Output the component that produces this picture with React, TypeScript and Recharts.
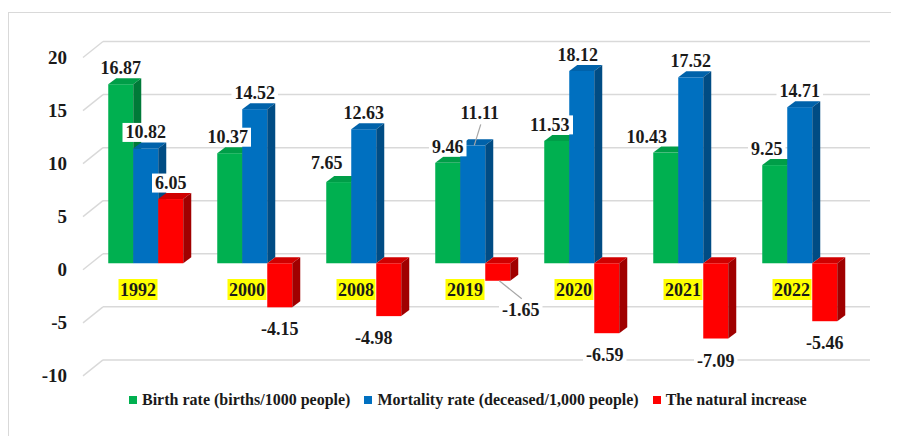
import React from 'react';
import { BarChart, Bar, XAxis, YAxis, CartesianGrid, LabelList } from 'recharts';

const years = ['1992', '2000', '2008', '2019', '2020', '2021', '2022'];
const birthRate = [16.87, 10.37, 7.65, 9.46, 11.53, 10.43, 9.25];
const mortalityRate = [10.82, 14.52, 12.63, 11.11, 18.12, 17.52, 14.71];
const naturalIncrease = [6.05, -4.15, -4.98, -1.65, -6.59, -7.09, -5.46];
const yTicks = [-10, -5, 0, 5, 10, 15, 20];

const series = [
    { key: 'birth', name: 'Birth rate (births/1000 people)', values: birthRate, front: '#00B050', top: '#009E48', side: '#007A38' },
    { key: 'mortality', name: 'Mortality rate (deceased/1,000 people)', values: mortalityRate, front: '#0070C0', top: '#0062AA', side: '#004C84' },
    { key: 'natural', name: 'The natural increase', values: naturalIncrease, front: '#FF0000', top: '#D00000', side: '#A00000' },
];

const data = years.map((year, i) => ({
    year,
    birth: birthRate[i],
    mortality: mortalityRate[i],
    natural: naturalIncrease[i],
}));

const FONT = '"Liberation Serif", "Times New Roman", serif';
const W = 890;
const H = 427;
const MARGIN = { top: 43, right: 44.5, bottom: 35.6, left: 0 };
const DEPTH_X = 8;
const DEPTH_Y = 6;

// hand-placed labels in the original (dx, dy from the default spot)
const LABEL_NUDGE: Record<string, [number, number]> = {
    'birth-1': [-2, 0],
    'birth-2': [-12, -3],
    'birth-4': [-7, 0],
    'birth-5': [-19, 0],
    'birth-6': [-8, 0],
    'mortality-3': [7, -16],
    'mortality-4': [-4, 0],
    'natural-2': [-15, 0],
    'natural-3': [23, 7],
    'natural-4': [-2, 0],
};
const LEADERS = ['mortality-3', 'natural-3'];

const textWidth = (s: string, size: number) =>
    s.split('').reduce((w, c) => w + (c === '.' ? 0.25 : c === '-' ? 0.333 : 0.5), 0) * size;

const Bar3D = (props: any) => {
    const { x, y, width, height, colors } = props;
    const x0 = Number(x);
    const w = Number(width);
    const t = Math.min(Number(y), Number(y) + Number(height));
    const b = Math.max(Number(y), Number(y) + Number(height));
    if (!isFinite(x0) || !isFinite(t)) return null;
    return (
        <g>
            <rect x={x0} y={t} width={w} height={b - t} fill={colors.front} />
            <polygon
                points={`${x0},${t} ${x0 + DEPTH_X},${t - DEPTH_Y} ${x0 + w + DEPTH_X},${t - DEPTH_Y} ${x0 + w},${t}`}
                fill={colors.top}
            />
            <polygon
                points={`${x0 + w},${t} ${x0 + w + DEPTH_X},${t - DEPTH_Y} ${x0 + w + DEPTH_X},${b - DEPTH_Y} ${x0 + w},${b}`}
                fill={colors.side}
            />
        </g>
    );
};

const makeLabel = (key: string, values: number[]) => (props: any) => {
    const vb = props.viewBox ?? props;
    const x0 = Number(vb.x ?? props.x);
    const y0 = Number(vb.y ?? props.y);
    const w = Number(vb.width ?? props.width);
    const h = Number(vb.height ?? props.height);
    const v = Number(props.value);
    const index = props.index ?? values.indexOf(v);
    const t = Math.min(y0, y0 + h);
    const b = Math.max(y0, y0 + h);
    const id = `${key}-${index}`;
    const [dx, dy] = LABEL_NUDGE[id] ?? [0, 0];
    const barCx = x0 + w / 2;
    const cx = barCx + dx;
    const cy = (v >= 0 ? t - 16 : b + 22) + dy;
    const text = v.toFixed(2);
    const tw = textWidth(text, 18);
    return (
        <g>
            {LEADERS.includes(id) && (
                <line
                    x1={barCx + 1.5}
                    y1={v >= 0 ? t : b}
                    x2={cx + 1}
                    y2={v >= 0 ? cy + 11 : cy - 11}
                    stroke="#a6a6a6"
                    strokeWidth={1.2}
                />
            )}
            <rect x={cx - tw / 2 - 3} y={cy - 9.5} width={tw + 6} height={19} fill="#ffffff" />
            <text x={cx} y={cy + 6} textAnchor="middle" fontFamily={FONT} fontWeight="bold" fontSize={18} fill="#1a1a1a">
                {text}
            </text>
        </g>
    );
};

const gridLine = (p: any) => {
    const { x1, x2, y1 } = p;
    const yb = y1 - 9.5;
    return (
        <g key={p.key ?? `g-${y1}`}>
            <line x1={x1 - 7.5} y1={y1 + 6.5} x2={x1 + 12.5} y2={yb} stroke="#d9d9d9" strokeWidth={1.5} />
            <line x1={x1 + 12.5} y1={yb} x2={x2 + 16.5} y2={yb} stroke="#d9d9d9" strokeWidth={1.5} />
        </g>
    );
};

const YTick = (props: any) => {
    const { y, payload } = props;
    return (
        <text x={59} y={Number(y) + 6.5 + 6.3} textAnchor="end" fontFamily={FONT} fontWeight="bold" fontSize={19} fill="#1a1a1a">
            {payload.value}
        </text>
    );
};

const XTick = (props: any) => {
    const { x, payload } = props;
    const cx = Number(x) - 7;
    const cy = 281.5;
    return (
        <g>
            <rect x={cx - 19.5} y={cy - 10.5} width={39} height={21} fill="#FFFF00" />
            <text x={cx} y={cy + 6} textAnchor="middle" fontFamily={FONT} fontWeight="bold" fontSize={18} fill="#1a1a1a">
                {payload.value}
            </text>
        </g>
    );
};

const chartProps = {
    width: W,
    height: H,
    data,
    margin: MARGIN,
    barCategoryGap: 17.75,
    barGap: 0,
};

export default function App() {
    return (
        <div style={{ position: 'relative', width: 891, height: 428, overflow: 'hidden', fontFamily: FONT }}>
            <div
                style={{
                    position: 'absolute',
                    left: 0,
                    top: 4,
                    width: 1000,
                    height: 1000,
                    border: '1.5px solid #d9d9d9',
                }}
            />
            <div style={{ position: 'absolute', left: 0, top: 0 }}>
                <BarChart {...chartProps}>
                    <CartesianGrid vertical={false} horizontal={gridLine} />
                    <XAxis dataKey="year" axisLine={false} tickLine={false} height={30} tick={<XTick />} interval={0} />
                    <YAxis
                        domain={[-10, 20]}
                        ticks={yTicks}
                        width={82.5}
                        axisLine={false}
                        tickLine={false}
                        tick={<YTick />}
                        interval={0}
                    />
                    {series.map((s) => (
                        <Bar
                            key={s.key}
                            dataKey={s.key}
                            name={s.name}
                            fill={s.front}
                            isAnimationActive={false}
                            shape={(p: any) => <Bar3D {...p} colors={s} />}
                        />
                    ))}
                </BarChart>
            </div>
            {/* labels go on a second, identical chart so they sit above every bar */}
            <div style={{ position: 'absolute', left: 0, top: 0 }}>
                <BarChart {...chartProps}>
                    <XAxis dataKey="year" axisLine={false} tickLine={false} height={30} tick={false} />
                    <YAxis domain={[-10, 20]} ticks={yTicks} width={82.5} axisLine={false} tickLine={false} tick={false} />
                    {series.map((s) => (
                        <Bar key={s.key} dataKey={s.key} fill="none" isAnimationActive={false}>
                            <LabelList dataKey={s.key} content={makeLabel(s.key, s.values)} />
                        </Bar>
                    ))}
                </BarChart>
            </div>
            <div
                style={{
                    position: 'absolute',
                    left: 121,
                    top: 382,
                    height: 20,
                    display: 'flex',
                    alignItems: 'center',
                    whiteSpace: 'nowrap',
                    fontWeight: 'bold',
                    fontSize: 16,
                    color: '#1a1a1a',
                }}
            >
                {series.map((s) => (
                    <div key={s.key} style={{ display: 'flex', alignItems: 'center', marginRight: 14 }}>
                        <span style={{ display: 'inline-block', width: 8, height: 8, background: s.front, marginRight: 5 }} />
                        <span>{s.name}</span>
                    </div>
                ))}
            </div>
        </div>
    );
}
